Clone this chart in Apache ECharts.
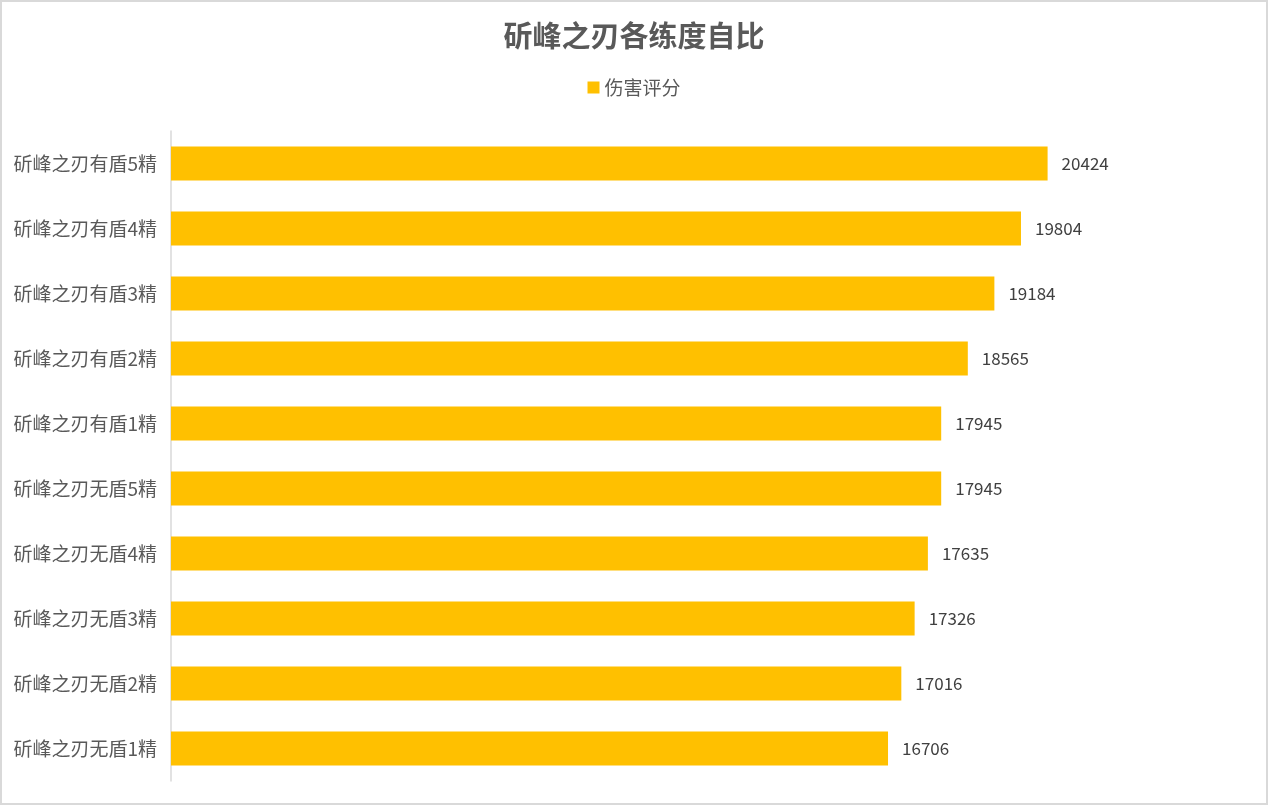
<!DOCTYPE html>
<html>
<head>
<meta charset="utf-8">
<script src="https://cdn.jsdelivr.net/npm/echarts@6/dist/echarts.min.js"></script>
<style>
html,body{margin:0;padding:0;background:#fff;}
#chart{width:1268px;height:805px;}
</style>
</head>
<body>
<div id="chart"></div>
<script>
const categories = ['斫峰之刃无盾1精','斫峰之刃无盾2精','斫峰之刃无盾3精','斫峰之刃无盾4精','斫峰之刃无盾5精','斫峰之刃有盾1精','斫峰之刃有盾2精','斫峰之刃有盾3精','斫峰之刃有盾4精','斫峰之刃有盾5精'];
const damageScores = [16706, 17016, 17326, 17635, 17945, 17945, 18565, 19184, 19804, 20424];
const seriesName = '伤害评分';
const titleText = '斫峰之刃各练度自比';

const chart = echarts.init(document.getElementById('chart'));
const font = '"Microsoft YaHei","Noto Sans CJK SC",sans-serif';
chart.setOption({
  animation: false,
  backgroundColor: '#fff',
  textStyle: {fontFamily: font},
  title: {
    text: titleText,
    left: 'center',
    top: 16,
    textStyle: {fontSize: 29, fontWeight: 'bold', color: '#595959', fontFamily: font}
  },
  legend: {
    data: [seriesName],
    top: 73,
    left: 'center',
    icon: 'rect',
    itemWidth: 12,
    itemHeight: 12,
    itemGap: 8,
    textStyle: {fontSize: 19, color: '#595959', fontFamily: font}
  },
  grid: {left: 171, right: 24, top: 131, bottom: 24, containLabel: false},
  xAxis: {
    type: 'value',
    min: 0,
    max: 25000,
    show: false
  },
  yAxis: {
    type: 'category',
    data: categories,
    axisLine: {show: true, lineStyle: {color: '#d9d9d9', width: 1.5}},
    axisTick: {show: false},
    axisLabel: {fontSize: 19, color: '#595959', margin: 14, fontFamily: font},
    splitLine: {show: false}
  },
  series: [{
    name: seriesName,
    type: 'bar',
    data: damageScores,
    barCategoryGap: '48%',
    itemStyle: {color: '#FFC000'},
    label: {
      show: true,
      position: 'right',
      distance: 14,
      fontSize: 17,
      color: '#404040',
      fontFamily: font
    }
  }],
  graphic: [{
    type: 'rect',
    shape: {x: 1, y: 1, width: 1266, height: 803},
    style: {fill: 'none', stroke: '#d9d9d9', lineWidth: 2},
    silent: true
  }]
});
</script>
</body>
</html>
